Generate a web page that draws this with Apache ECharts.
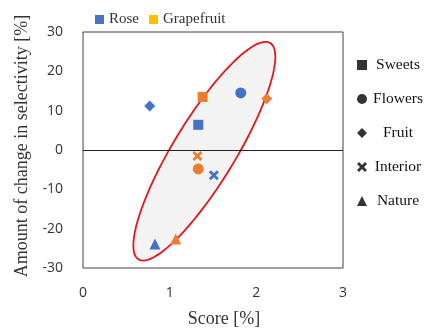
<!DOCTYPE html>
<html>
<head>
<meta charset="utf-8">
<script src="https://cdn.jsdelivr.net/npm/echarts@6/dist/echarts.min.js"></script>
<style>
html,body{margin:0;padding:0;background:#fff;}
#chart{width:425px;height:333px;}
</style>
</head>
<body>
<div id="chart"></div>
<script>
// ---- data ----
const categories = ['Sweets', 'Flowers', 'Fruit', 'Interior', 'Nature'];
const flavors = ['Rose', 'Grapefruit'];
const roseScore = [1.33, 1.82, 0.77, 1.51, 0.83];
const roseChange = [6.4, 14.5, 11.2, -6.4, -23.9];
const grapeScore = [1.38, 1.33, 2.12, 1.32, 1.07];
const grapeChange = [13.5, -4.8, 13.0, -1.5, -22.6];
const xTicks = [0, 1, 2, 3];
const yTicks = [-30, -20, -10, 0, 10, 20, 30];
// ellipse annotation: centre and end of major axis (data units)
const ellipseCenter = [1.40, -0.3];
const ellipseEnd = [2.16, 27.2];
const ellipseRatio = 0.245;

// ---- styles ----
const symbolOf = {
  Sweets: 'rect',
  Flowers: 'circle',
  Fruit: 'diamond',
  Interior: 'path://M0,2L2,0L5,3L8,0L10,2L7,5L10,8L8,10L5,7L2,10L0,8L3,5Z',
  Nature: 'triangle'
};
const sizeOf = { Sweets: 10, Flowers: 11, Fruit: 11, Interior: 10, Nature: 11 };
const serif = '"Liberation Serif", "Times New Roman", serif';
const sans = '"Open Sans", "Noto Sans", sans-serif';

function buildPoints(xs, ys) {
  return categories.map((c, i) => ({
    value: [xs[i], ys[i]],
    symbol: symbolOf[c],
    symbolSize: sizeOf[c]
  }));
}

const chart = echarts.init(document.getElementById('chart'));

const dummySeries = categories.map(c => ({
  name: c, type: 'scatter', data: [], symbol: symbolOf[c],
  itemStyle: { color: '#000' }
}));

const option = {
  animation: false,
  backgroundColor: '#fff',
  grid: { left: 83, right: 82, top: 32, bottom: 65, show: true, borderColor: '#404040', borderWidth: 1, backgroundColor: 'transparent' },
  xAxis: {
    type: 'value', min: xTicks[0], max: xTicks[xTicks.length - 1], interval: 1,
    axisLine: { show: false }, axisTick: { show: false }, splitLine: { show: false },
    axisLabel: { margin: 18, fontSize: 14, fontFamily: sans, color: '#333' },
    name: 'Score [%]', nameLocation: 'middle', nameGap: 42,
    nameTextStyle: { fontFamily: serif, fontSize: 18, color: '#333', padding: [0, 0, 0, 22] }
  },
  yAxis: {
    type: 'value', min: yTicks[0], max: yTicks[yTicks.length - 1], interval: 10,
    axisLabel: { margin: 20, fontSize: 14, fontFamily: sans, color: '#333' },
    axisLine: { show: false }, axisTick: { show: false }, splitLine: { show: false },
    name: 'Amount of change in selectivity [%]', nameLocation: 'middle', nameGap: 50,
    nameTextStyle: { fontFamily: serif, fontSize: 18, color: '#333', padding: [0, 0, 0, 8] }
  },
  legend: [
    {
      data: [
        { name: 'Rose', icon: 'rect' },
        { name: 'Grapefruit', icon: 'rect', itemStyle: { color: '#FFC000' } }
      ],
      left: 90, top: 7, itemWidth: 9, itemHeight: 9, itemGap: 10, selectedMode: false,
      textStyle: { fontFamily: serif, fontSize: 15, color: '#333' }
    },
    {
      data: categories.map(c => ({ name: c, icon: symbolOf[c] })),
      orient: 'vertical', left: 352, top: 52, itemWidth: 10, itemHeight: 10, itemGap: 18,
      selectedMode: false,
      formatter: n => '{a|' + n + '}',
      textStyle: {
        fontFamily: serif, fontSize: 15.5, color: '#111',
        rich: { a: { width: 52, align: 'center', fontFamily: serif, fontSize: 15.5, color: '#111' } }
      }
    }
  ],
  series: [
    {
      type: 'custom', name: 'ellipse', z: 1, silent: true,
      data: [[ellipseCenter[0], ellipseCenter[1], ellipseEnd[0], ellipseEnd[1]]],
      encode: { x: [0, 2], y: [1, 3] },
      renderItem: function (params, api) {
        const c = api.coord([api.value(0), api.value(1)]);
        const e = api.coord([api.value(2), api.value(3)]);
        const dx = e[0] - c[0], dy = e[1] - c[1];
        const a = Math.sqrt(dx * dx + dy * dy);
        const b = a * ellipseRatio;
        const ux = dx / a, uy = dy / a;
        const vx = -uy, vy = ux;
        const pts = [];
        for (let k = 0; k < 120; k++) {
          const t = k / 120 * Math.PI * 2;
          pts.push([c[0] + a * Math.cos(t) * ux + b * Math.sin(t) * vx,
                    c[1] + a * Math.cos(t) * uy + b * Math.sin(t) * vy]);
        }
        return {
          type: 'polygon', shape: { points: pts },
          style: { fill: '#F3F3F3', stroke: '#E3161B', lineWidth: 1.8 }
        };
      }
    },
    {
      name: 'Rose', type: 'scatter', z: 3,
      itemStyle: { color: '#4472C4', opacity: 1 },
      data: buildPoints(roseScore, roseChange),
      markLine: {
        silent: true, symbol: ['none', 'none'], label: { show: false },
        lineStyle: { color: '#222', width: 1, type: 'solid' },
        data: [{ yAxis: 0 }]
      }
    },
    {
      name: 'Grapefruit', type: 'scatter', z: 3,
      itemStyle: { color: '#ED7D31', opacity: 1 },
      data: buildPoints(grapeScore, grapeChange)
    }
  ].concat(dummySeries)
};
chart.setOption(option);
</script>
</body>
</html>
